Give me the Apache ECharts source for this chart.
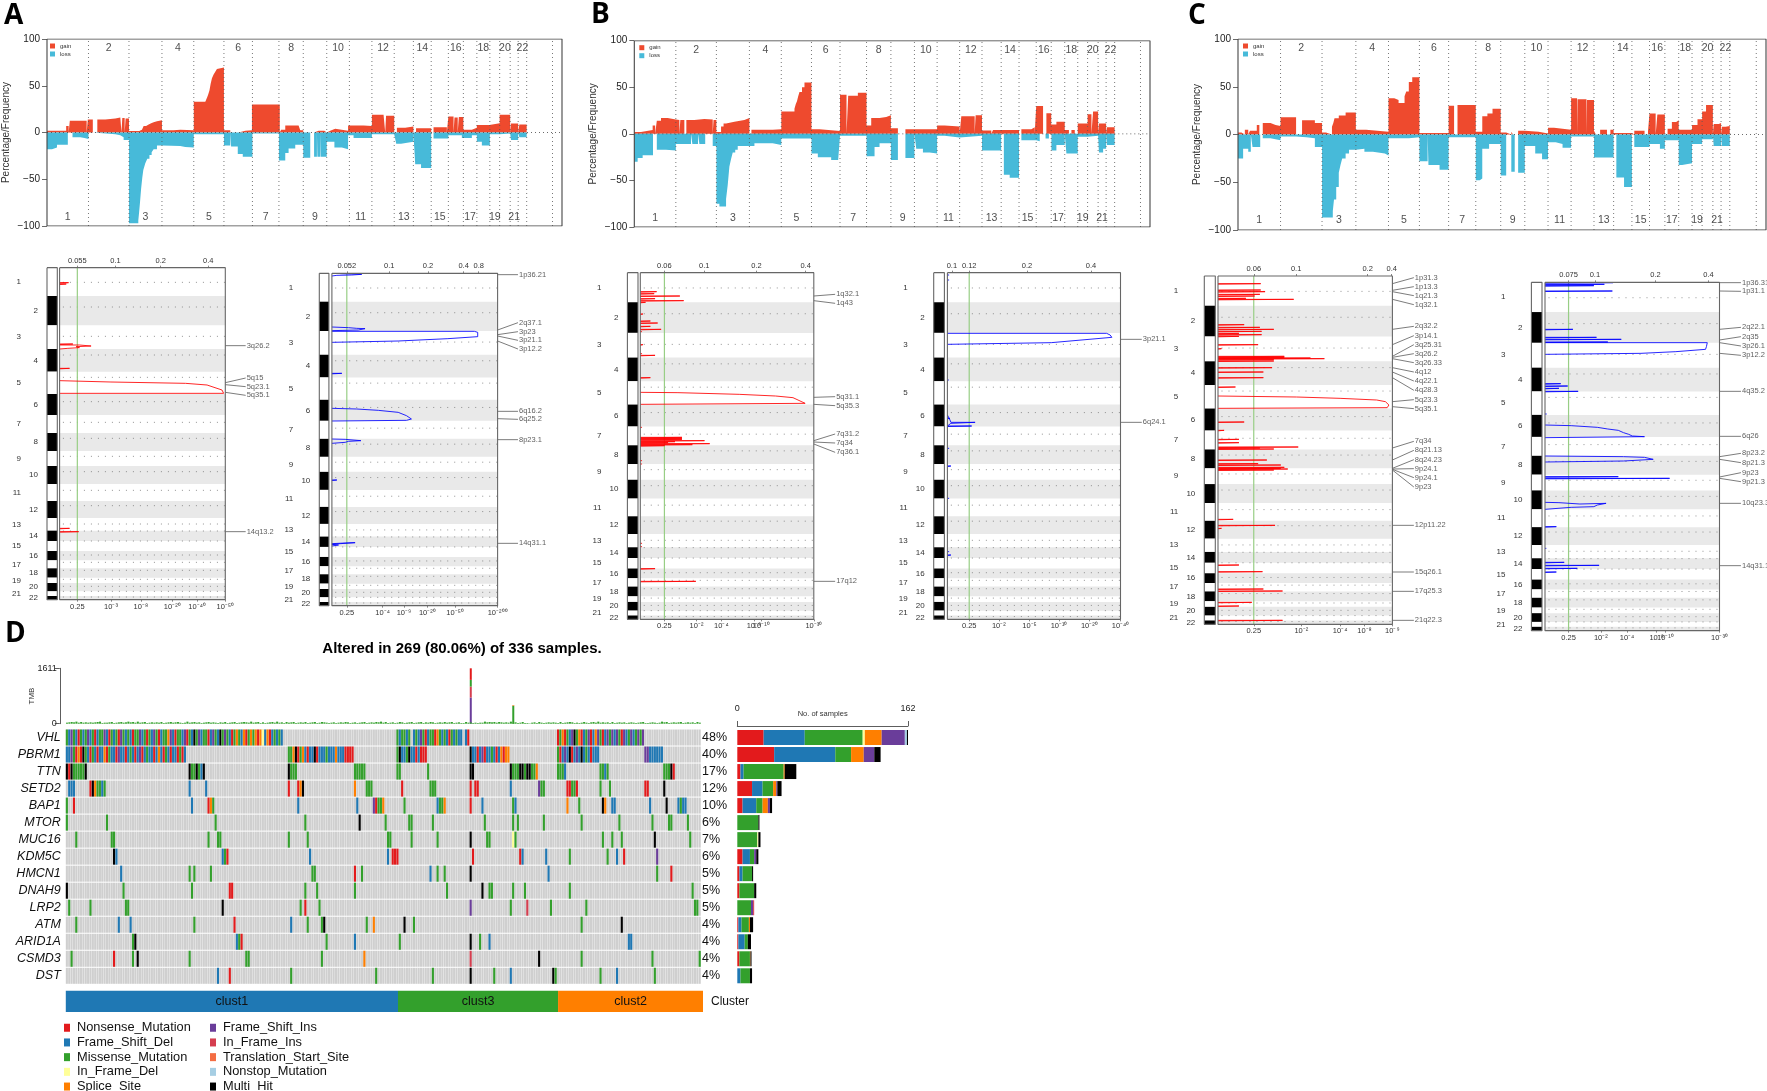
<!DOCTYPE html>
<html><head><meta charset="utf-8">
<style>html,body{margin:0;padding:0;background:#fff}#c{width:1767px;height:1091px}</style>
<script src="https://cdn.jsdelivr.net/npm/echarts@6/dist/echarts.min.js"></script>
</head><body><div id="c"></div>
<script>
// ---------- DATA: copy-number frequency (position in Mb, percent) ----------
const chrLengthsMb=[249,243,198,191,181,171,159,146,141,136,135,134,115,107,103,90,81,78,59,63,48,51];
const extraBoundaryMb=3034;
const gainA=[[0,2],[115,7],[130,0],[137,12.5],[238,0],[245,14],[275,0],[302,14],[350,15],[410,16],[440,15.5],[447,0],[452,15.5],[466,0],[472,15],[492,1.5],[554,3],[570,5],[580,7],[595,8.5],[610,10],[625,11],[640,12],[660,13],[690,2.5],[760,3],[800,2.5],[881,33],[950,32],[955,35],[962,38],[968,41],[975,45],[982,52],[990,58],[1000,62],[1010,65],[1020,68],[1030,69.5],[1062,2.5],[1100,0],[1150,2],[1190,0],[1200,2.5],[1230,30],[1397,0],[1405,3],[1430,7.5],[1510,7.5],[1520,2.5],[1538,0],[1603,2],[1630,0],[1642,2],[1665,0],[1679,2],[1700,4],[1730,2],[1807,7.5],[1900,7],[1950,19],[2020,18.5],[2030,0],[2035,18],[2084,0],[2100,5],[2150,6.5],[2199,0],[2215,4.5],[2306,0],[2320,5.5],[2400,0],[2409,17],[2440,0],[2446,16],[2465,0],[2472,16.5],[2499,3],[2550,5],[2580,8],[2655,10],[2717,19],[2780,0],[2785,9.5],[2828,0],[2835,8.5],[2879,0]];
const lossA=[[0,-18],[30,-16],[60,-13],[125,0],[153,-5],[200,-6],[225,-7],[249,0],[275,-2],[410,-3],[440,-5],[460,-8],[492,-97],[548,-94],[553,-85],[558,-75],[565,-60],[572,-48],[578,-40],[590,-33],[602,-28],[615,-24],[628,-21],[640,-18],[660,-14],[690,-14.5],[800,-15.5],[830,-16],[881,-2],[1062,-14],[1100,0],[1105,-15],[1145,-23],[1175,-26],[1233,-1],[1392,-30],[1430,-22],[1450,-17],[1490,-13],[1538,-27],[1580,0],[1603,-26],[1620,0],[1623,-26],[1640,0],[1643,-26],[1679,-10],[1725,-16],[1770,-18],[1807,-3],[1840,-6],[1950,-2],[2084,0],[2096,-12],[2125,-10],[2199,0],[2210,-34],[2245,-38],[2306,0],[2320,-6.5],[2409,-3],[2490,-6],[2550,-3],[2580,-10],[2610,-14],[2658,-2],[2717,-1],[2780,0],[2785,-8],[2828,0],[2835,-5],[2879,0]];
const gainB=[[0,2],[40,4],[110,9],[125,0],[135,14],[160,17],[200,15.5],[249,15],[270,0],[276,15],[300,0],[312,15],[360,16],[420,15.5],[470,0],[475,15],[492,2],[520,8],[535,11],[550,13],[600,15],[660,17],[690,0],[702,4.5],[830,5],[881,24],[960,27],[968,32],[975,35],[982,40],[990,45],[1005,50],[1020,55],[1062,5],[1110,3],[1233,42],[1272,0],[1282,41],[1340,44],[1392,9],[1420,17],[1470,18],[1510,20],[1538,6],[1580,0],[1625,5],[1679,5],[1815,9],[1860,8],[1950,0],[1960,19],[2040,0],[2046,20],[2084,3.5],[2140,0],[2150,4],[2199,4],[2306,0],[2320,5],[2380,7],[2400,0],[2409,30],[2450,0],[2470,22],[2499,10],[2530,13],[2580,4],[2605,0],[2620,4],[2640,0],[2658,11],[2700,11],[2717,21],[2740,0],[2750,24],[2780,0],[2785,11],[2828,0],[2833,7],[2879,0]];
const lossB=[[0,-30],[20,-26],[50,-23],[112,0],[135,-17],[190,-18],[249,-11],[340,0],[348,-11],[382,0],[390,-11],[425,0],[470,-13],[492,-75],[510,-78],[550,-70],[560,-55],[570,-35],[580,-27],[590,-20],[605,-17],[620,-13],[690,-13],[720,-10],[830,-12],[881,-5],[1062,-21],[1100,-25],[1180,-28],[1222,-30],[1233,-2],[1392,-24],[1440,-14],[1470,-10],[1538,-28],[1580,0],[1625,-26],[1679,0],[1690,-16],[1730,-20],[1770,-21],[1815,-2],[1860,-4],[1950,-2],[2084,-18],[2199,0],[2215,-44],[2250,-47],[2306,0],[2320,-7],[2409,-8],[2430,0],[2465,-5],[2485,0],[2500,-18],[2530,-12],[2580,0],[2590,-21],[2658,-3],[2717,-2],[2780,0],[2785,-20],[2810,-16],[2828,0],[2833,-12],[2879,0]];
const gainC=[[0,2],[20,0],[40,5],[60,0],[70,4],[110,10],[125,0],[145,12],[190,10],[220,9],[249,18],[340,0],[375,15],[450,12],[492,2],[515,0],[550,8],[558,12],[565,17],[590,20],[630,23],[690,5],[750,3],[881,38],[915,36],[940,33],[975,40],[985,45],[1000,55],[1020,60],[1062,1.5],[1233,30],[1265,0],[1285,31],[1392,3],[1430,19],[1460,22],[1490,27],[1538,2],[1570,0],[1600,3],[1610,0],[1640,4],[1679,3],[1760,1],[1815,7],[1850,5],[1950,38],[1985,0],[1988,37],[2040,0],[2043,36],[2084,4],[2095,0],[2120,5],[2160,0],[2180,5],[2199,1.5],[2306,0],[2320,4],[2380,0],[2400,3],[2409,22],[2445,0],[2455,21],[2499,0],[2515,6],[2540,13],[2565,15],[2580,5],[2658,10],[2690,16],[2717,24],[2740,31],[2780,0],[2785,11],[2815,12],[2828,0],[2833,8],[2855,9],[2879,0]];
const lossC=[[0,-25],[30,-15],[60,-18],[75,0],[85,-13],[130,0],[145,-4],[190,-6],[249,-2],[340,-3],[400,-4],[450,-13],[492,-87],[555,-80],[562,-68],[575,-55],[590,-40],[600,-32],[610,-25],[630,-20],[650,-16],[690,-15],[740,-18],[790,-20],[860,-22],[881,-4],[1000,-3],[1062,-28],[1110,0],[1115,-32],[1180,-37],[1233,-3],[1392,-48],[1415,-46],[1430,-15],[1470,-10],[1538,-43],[1570,0],[1600,-39],[1620,0],[1640,-40],[1679,-12],[1740,-20],[1780,-26],[1815,-8],[1860,-10],[1900,-14],[1950,-2],[2084,-24],[2199,0],[2215,-45],[2260,-55],[2306,0],[2320,-13],[2409,-10],[2470,-15],[2499,-6],[2580,-32],[2600,-30],[2658,-10],[2717,-5],[2780,0],[2785,-12],[2828,0],[2833,-12],[2879,0]];

// ---------- DATA: GISTIC-style panels ----------
const gisticChrUnits=[85,88,71,68,67,63,54,54,45,54,51,51,38,31,30,28,24,28,16,25,14,11];
const gisticCentromere=[44,118,206,262,329,402,464,512,566,612,668,714,769,790,820,862,884,908,935,956,971,988];
const chrNames=['1','2','3','4','5','6','7','8','9','10','11','12','13','14','15','16','17','18','19','20','21','22'];

const a1TopPos=[10.7,33.7,61,89.7], a1TopLab=['0.055','0.1','0.2','0.4'];
const a1BotPos=[10.7,31,49,68,83,100], a1BotLab=['0.25','10⁻³','10⁻⁸','10⁻²⁰','10⁻⁴⁰','10⁻⁵⁰'];
const a1Spikes=[[98,5.4],[102,4],[282,8],[355,6],[835,6],[845,11.5]];
const a1Curves=[[[0,285],[12,285],[19,288],[10,290],[12,293],[5,295],[0,297]],[[0,392],[31,396],[76,400],[89,405],[98,420],[99,430],[0,430]]];
const a1Names=['3q26.2','5q15','5q23.1','5q35.1','14q13.2'], a1From=[287,398,404,427,845], a1To=[287,384,410,436,845];

const a2TopPos=[9,34.6,58,79.5,88.6], a2TopLab=['0.052','0.1','0.2','0.4','0.8'];
const a2BotPos=[9,30.6,43.5,57.6,74.3,100], a2BotLab=['0.25','10⁻⁴','10⁻⁹','10⁻²⁰','10⁻⁵⁰','10⁻²⁰⁰'];
const a2Spikes=[[370,6],[690,3]];
const a2Curves=[[[5,71],[18,73],[12,75],[3,76],[0,78]],[[0,231],[10,233],[15,235],[20,236],[16,240],[0,242]],[[0,244],[86,244],[88,247],[88,260],[70,266],[40,273],[0,277]],[[0,475],[15,477],[28,481],[40,487],[45,497],[48,507],[45,511],[0,513]],[[0,567],[8,568],[17.5,572],[10,574],[8,577],[0,580]],[[0,881],[8,879],[14,878],[15,879],[5,881],[0,883],[4,885],[0,888]]];
const a2Names=['1p36.21','2q37.1','3p23','3p21.1','3p12.2','6q16.2','6q25.2','8p23.1','14q31.1'], a2From=[74,240,254,258,273,484,506,569,880], a2To=[74,218,245,271,297,484,508,569,880];

const b1TopPos=[13.9,36.9,67,95.3], b1TopLab=['0.06','0.1','0.2','0.4'];
const b1BotPos=[13.9,32.4,46.7,65.5,69.7,100], b1BotLab=['0.25','10⁻²','10⁻⁴','10⁻⁸','10⁻¹⁰','10⁻³⁰'];
const b1Spikes=[[125,9.4],[131,8],[138,22.8],[146,8.5],[152,25],[157,3],[192,1.5],[213,5.8],[219,10],[229,5.8],[238,12],[245,1],[284,1.5],[311,1],[316,8.5],[383,5.8],[532,1],[562,24],[565,24],[568,24],[572,37],[575,20],[578,16],[581,40],[584,30],[587,14],[632,1],[642,1],[880,1],[890,1],[956,8.5],[994,32]];
const b1Curves=[[[0,427],[21.7,428],[57,433],[78,438],[88,443],[95,460],[0,463]]];
const b1Names=['1q32.1','1q43','5q31.1','5q35.3','7q31.2','7q34','7q36.1','17q12'], b1From=[138,152,442,463,572,576,582,994], b1To=[133,160,440,467,552,579,607,994];

const b2TopPos=[2.6,12.6,46,83], b2TopLab=['0.1','0.12','0.2','0.4'];
const b2BotPos=[12.6,29.7,47.4,64.5,82,100], b2BotLab=['0.25','10⁻²','10⁻⁵','10⁻¹⁰','10⁻²⁰','10⁻⁴⁰'];
const b2Spikes=[[75,1],[90,1],[390,0.8],[505,1.5],[595,1],[648,2],[745,1],[905,1],[915,2],[528,14]];
const b2Curves=[[[0,250],[92,250],[94,255],[95,262],[96,268],[60,278],[0,283]],[[0,495],[1.5,510],[2,517],[16,517],[2,520],[0,528]]];
const b2Names=['3p21.1','6q24.1'], b2From=[268,517], b2To=[268,517];

const c1TopPos=[20.5,44.8,85.8,99.6], c1TopLab=['0.06','0.1','0.2','0.4'];
const c1BotPos=[20.5,47.8,70,84,100], c1BotLab=['0.25','10⁻²','10⁻⁴','10⁻⁸','10⁻⁹'];
const c1Spikes=[[101,24.5],[120,24.5],[125,27],[133,24],[138,21],[145,16],[148,43.4],[224,15],[232,24],[238,32],[244,25],[250,12],[254,25],[259,12],[284,23],[296,2],[319,38],[322,38],[324,53],[326,61],[329,32],[333,32],[353,31],[366,26],[383,26],[411,10],[516,15],[541,3.5],[568,12],[578,12],[591,46],[594,24],[597,32],[630,28],[641,23],[645,36],[652,38],[655,36],[657,40],[660,32],[808,8.7],[826,32.7],[835,2],[945,12],[965,25.5],[1017,26],[1023,37],[1057,19.4],[1068,12],[1111,37]];
const c1Curves=[[[0,438],[45,441],[70,445],[91,450],[96,455],[98,465],[97,473],[0,475]]];
const c1Names=['1p31.3','1p13.3','1q21.3','1q32.1','2q32.2','3p14.1','3q25.31','3q26.2','3q26.33','4q12','4q22.1','4q28.3','5q23.3','5q35.1','7q34','8q21.13','8q24.23','9p24.1','9p24.1','9p23','12p11.22','15q26.1','17q25.3','21q22.3'];
const c1From=[101,121,125,148,238,284,319,322,326,353,366,383,455,470,594,630,655,657,658,660,826,966,1024,1111];
const c1To=[83,110,137,164,229,257,284,311,338,366,393,421,449,476,574,601,629,656,683,711,826,966,1024,1111];

const c2TopPos=[13.5,28.6,63.3,93.7], c2TopLab=['0.075','0.1','0.2','0.4'];
const c2BotPos=[13.5,32,47,64,69,100], c2BotLab=['0.25','10⁻²','10⁻⁴','10⁻⁸','10⁻¹⁰','10⁻³⁰'];
const c2Spikes=[[98,39],[103,34],[107,28],[123,38.6],[238,16],[262,29.5],[268,43.7],[276,36],[401,9],[408,13],[415,8],[424,19],[492,1],[680,42],[685,71.4],[830,6.5],[895,0.8],[937,11],[946,31],[955,18.5],[966,6.5]];
const c2Curves=[[[0,278],[93,278],[92.5,290],[92,298],[75,305],[55,310],[0,313]],[[0,525],[15,527],[30,532],[36,537],[42,541],[45,548],[48,553],[50,558],[57,560],[0,563]],[[0,618],[45,620],[57,622],[58,628],[62,628],[45,633],[0,636]],[[0,757],[8,758],[20,762],[35,760],[30,765],[28,770],[15,772],[0,778]]];
const c2Names=['1p36.31','1p31.1','2q22.1','2q35','3p26.1','3p12.2','4q35.2','6q26','8p23.2','8p21.3','9p23','9p21.3','10q23.31','14q31.1'];
const c2From=[98,123,238,270,278,310,424,559,620,628,681,685,760,947];
const c2To=[98,124,232,260,288,316,424,559,610,638,668,695,760,947];

// ---------- DATA: oncoplot ----------
const genes=['VHL','PBRM1','TTN','SETD2','BAP1','MTOR','MUC16','KDM5C','HMCN1','DNAH9','LRP2','ATM','ARID1A','CSMD3','DST'];
const genePct=['48%','40%','17%','12%','10%','6%','7%','6%','5%','5%','5%','4%','4%','4%','4%'];
const typeNames=['Nonsense_Mutation','Frame_Shift_Del','Missense_Mutation','In_Frame_Del','Splice_Site','Frame_Shift_Ins','In_Frame_Ins','Translation_Start_Site','Nonstop_Mutation','Multi_Hit'];
const typeCodes=['N','D','M','I','S','F','R','T','O','H'];
const typeColors=['#E31A1C','#1F78B4','#33A02C','#FFFF99','#FF7F00','#6A3D9A','#D53E4F','#F46D43','#A6CEE3','#000000'];
const sampleCount=269;
const runsVHL=[[0,'MDFMDNMDMFDMNDMMFDNMDMNFMDMDNMMFDMNMDFMNDMMSFDNMMDFNMDHMFDMMNDFMDHMFMDNMSMDSNMSMSNSIDSNDMDMD'],[140,'MDMMDM'],[147,'DMDFMNDMMNSMDMDNMDMDD'],[169,'DN'],[208,'NMSNMDFHMSNDMFNDSFMNDFMFDFMNFDMFDMFMF']];
const runsPBRM1=[[0,'DDFMNSNHMDNMDNDDSNMDDNFDDNDMDNDFNDMDDNDSDNMDNDDNMND'],[94,'MMSHNMSDNDDHNDDDMDDDSDDDNNNN'],[140,'MHDDMHDDNDNNN'],[171,'HDDNDFNDDMDNDSNSS'],[208,'MNDFDHNDFDHDMDNDDD'],[245,'FFDDDDDD']];
const runsTTN=[[0,'HNHMMMMMH'],[52,'HMMHMDH'],[94,'HMMM'],[122,'MMMMM'],[140,'MM'],[153,'M'],[171,'HH'],[188,'HMMMHHMHHMMS'],[208,'MMMD'],[226,'MMDM'],[253,'MMMHN']];
const runsSETD2=[[1,'DDD'],[10,'NHSMMDM'],[52,'D'],[59,'D'],[94,'N'],[98,'NSH'],[122,'S'],[127,'MMM'],[142,'N'],[154,'MMM'],[171,'N'],[173,'NN'],[188,'D'],[200,'FMM'],[212,'NNMMN'],[226,'M'],[230,'M'],[245,'NN'],[253,'H']];
const runsBAP1=[[0,'M'],[3,'N'],[53,'D'],[60,'NSM'],[98,'D'],[123,'D'],[130,'FNMMS'],[143,'M'],[157,'DMMS'],[171,'N'],[176,'D'],[189,'MD'],[212,'S'],[217,'M'],[227,'HS'],[231,'DD'],[247,'D'],[254,'H'],[259,'DMDD']];
const runsMTOR=[[0,'M'],[17,'M'],[63,'M'],[101,'M'],[124,'H'],[135,'M'],[145,'MM'],[155,'M'],[177,'M'],[189,'M'],[191,'M'],[202,'M'],[218,'M'],[234,'M'],[248,'M'],[255,'MM'],[263,'M']];
const runsMUC16=[[4,'M'],[19,'MM'],[60,'M'],[64,'MM'],[94,'M'],[102,'M'],[136,'MM'],[146,'M'],[157,'M'],[171,'H'],[178,'MM'],[189,'IM'],[227,'M'],[231,'M'],[235,'M'],[249,'H'],[264,'M']];
const runsKDM5C=[[20,'HD'],[66,'DMN'],[103,'D'],[136,'D'],[138,'NNN'],[172,'N'],[192,'ND'],[203,'D'],[213,'M'],[229,'M'],[233,'D'],[236,'N'],[250,'F']];
const runsHMCN1=[[23,'D'],[52,'M'],[54,'M'],[61,'M'],[104,'MM'],[122,'N'],[125,'M'],[154,'D'],[157,'M'],[160,'M'],[171,'H'],[204,'D'],[250,'M'],[256,'N']];
const runsDNAH9=[[0,'H'],[24,'M'],[53,'M'],[69,'NN'],[101,'M'],[106,'M'],[122,'M'],[161,'M'],[176,'H'],[179,'MM'],[189,'M'],[194,'M'],[213,'M'],[265,'M']];
const runsLRP2=[[1,'M'],[10,'M'],[25,'MM'],[66,'H'],[99,'M'],[101,'N'],[107,'M'],[171,'F'],[188,'M'],[195,'R'],[205,'M'],[220,'M'],[266,'MM']];
const runsATM=[[4,'M'],[22,'D'],[27,'D'],[54,'M'],[71,'N'],[95,'D'],[102,'M'],[108,'MH'],[127,'M'],[130,'S'],[143,'H'],[147,'M'],[218,'M'],[235,'H']];
const runsARID1A=[[28,'MH'],[72,'DMN'],[110,'M'],[122,'D'],[141,'M'],[171,'H'],[175,'M'],[179,'D'],[238,'DD']];
const runsCSMD3=[[2,'M'],[20,'N'],[28,'M'],[30,'H'],[52,'M'],[76,'MM'],[108,'M'],[126,'S'],[171,'R'],[200,'H'],[218,'M'],[248,'M'],[268,'M']];
const runsDST=[[64,'D'],[69,'N'],[95,'M'],[131,'M'],[155,'M'],[171,'H'],[181,'M'],[188,'D'],[206,'HM'],[226,'M'],[233,'D'],[249,'M']];
const geneRuns=[runsVHL,runsPBRM1,runsTTN,runsSETD2,runsBAP1,runsMTOR,runsMUC16,runsKDM5C,runsHMCN1,runsDNAH9,runsLRP2,runsATM,runsARID1A,runsCSMD3,runsDST];
const countNonsense=[25,35,3,14,5,0,0,5,2,2,0,1,1,2,0];
const countFrameDel=[39,58,3,10,13,0,0,7,3,0,0,3,6,0,3];
const countMissense=[55,15,38,10,6,20,19,4,9,14,13,7,3,10,9];
const countInDel=[2,0,0,0,0,0,1,0,0,0,0,0,0,0,0];
const countSplice=[16,12,1,3,5,0,0,0,0,0,0,1,0,0.5,0];
const countFrameIns=[22,10,0,1,2,0,0,2,0,0,2,0,0,0,0];
const countInIns=[0,0,0,0,0,0,0,0,0,0,1,0,0,0,0];
const countStart=[0,0,0,0,0,0,0,0,0,0,0,0,0,0,0];
const countNonstop=[2,0,0,0,0,0,0,0,0,0,0,0,0,0,0];
const countMulti=[1,6,11,4,2,1,2,2,1,2,0,3,3,1,2];
const typeCounts=[countNonsense,countFrameDel,countMissense,countInDel,countSplice,countFrameIns,countInIns,countStart,countNonstop,countMulti];
// per-sample tumour mutation burden, tens of mutations
const tmbBase='34546353434345623345234534645363452343435234534532363453423453432435234523454363452423453634253452343523452354323423435423423452343546352342354234523452435423435345234225342323364545354343634235221342532343432523454232353245363434252343423432345223432364523434523434253423534234';
const tmbExtraCol=[171,189];
const tmbFrameIns=[760,0], tmbInIns=[320,0], tmbMissense=[194,520], tmbNonsense=[340,5], tmbSplice=[0,15];
const clusterNames=['clust1','clust3','clust2'], clusterStart=[0,140.5,208.2], clusterEnd=[140.5,208.2,269.5];
const clusterColors=['#1F78B4','#33A02C','#FF7F00'];

// ---------- BUILD ----------
const FONT='"Liberation Sans",Arial,sans-serif';
const grid=[],xAxis=[],yAxis=[],series=[],title=[],legend=[];
const GAIN='#EE4A2E',LOSS='#47BAD9',FRAME='#666',BAND='#E9E9E9',GREEN='#98CE85';
function addAxes(g,x,y){grid.push(g);const gi=grid.length-1;
  const xs=(Array.isArray(x)?x:[x]).map(a=>{xAxis.push(Object.assign({gridIndex:gi},a));return xAxis.length-1;});
  const ys=(Array.isArray(y)?y:[y]).map(a=>{yAxis.push(Object.assign({gridIndex:gi},a));return yAxis.length-1;});
  return {x:xs,y:ys};}
const box=(L,R,T,B)=>({left:L,top:T,width:R-L,height:B-T});

let cum=0;const chrStartMb=[];chrLengthsMb.forEach(l=>{chrStartMb.push(cum);cum+=l;});const genomeEnd=cum;

function cnvPanel(L,R,T,B,gain,loss,xMax){
  const a=addAxes(box(L,R,T,B),
    {type:'value',min:0,max:xMax,show:false},
    {type:'value',min:-100,max:100,interval:50,axisLine:{show:false},axisTick:{show:true,length:5,lineStyle:{color:'#444',width:.8}},splitLine:{show:false},
     name:'Percentage/Frequency',nameLocation:'middle',nameGap:36,nameMoveOverlap:false,nameTextStyle:{fontFamily:FONT,fontSize:10,color:'#333'},
     axisLabel:{fontFamily:FONT,fontSize:10,color:'#222',margin:7,formatter:v=>String(v).replace('-','−')}});
  const idx={xAxisIndex:a.x[0],yAxisIndex:a.y[0],silent:true,animation:false};
  [['gain',gain,GAIN],['loss',loss,LOSS]].forEach(([n,d,c])=>series.push(Object.assign({},idx,{type:'line',name:n,step:'end',data:d,symbol:'none',z:2,lineStyle:{width:0},itemStyle:{color:c},areaStyle:{color:c,opacity:1}})));
  const vl=[];chrStartMb.slice(1).concat([genomeEnd,extraBoundaryMb]).forEach(b=>vl.push([b,-100],[b,100],[null,null]));
  series.push(Object.assign({},idx,{type:'line',data:vl,symbol:'none',z:3,lineStyle:{color:'#555',width:.8,type:[1,3]}}));
  series.push(Object.assign({},idx,{type:'line',data:[[0,0],[xMax,0]],symbol:'none',z:3,lineStyle:{color:'#444',width:.8,type:[1,3]}}));
  series.push(Object.assign({},idx,{type:'line',data:[[0,100],[xMax,100],[xMax,-100],[0,-100],[0,100]],symbol:'none',z:4,lineStyle:{color:'#444',width:1.1}}));
  const lab=chrNames.map((n,i)=>({name:n,value:[chrStartMb[i]+chrLengthsMb[i]/2,i%2?90:-90]}));
  series.push(Object.assign({},idx,{type:'scatter',data:lab,symbolSize:0,z:5,label:{show:true,position:'inside',formatter:'{b}',fontFamily:FONT,fontSize:10.5,color:'#222'}}));
  legend.push({data:['gain','loss'],selectedMode:false,orient:'vertical',left:L+5,top:T+4,itemWidth:5,itemHeight:5,itemGap:2,padding:0,icon:'rect',textStyle:{fontFamily:FONT,fontSize:6,color:'#333'}});
}
cnvPanel(45,562,39,226,gainA,lossA,3091);
cnvPanel(634.3,1150,40.7,227,gainB,lossB,3091);
cnvPanel(1238,1766,39,230,gainC,lossC,3091);

function gistic(c){
  const T=250+c.zT/3,B=250+c.zB/3,k=(c.zB-c.zT)/996;
  let s=0;const starts=[];gisticChrUnits.forEach(u=>{starts.push(c.zT+s*k);s+=u;});
  const ends=starts.map((v,i)=>v+gisticChrUnits[i]*k);
  const mids=starts.map((v,i)=>(v+ends[i])/2);
  const lblAxis=(rem,margin)=>({type:'value',inverse:true,min:c.zT,max:c.zB,position:'left',axisLine:{show:false},axisTick:{show:false},splitLine:{show:false},
    axisLabel:{customValues:mids.filter((_,i)=>i%2===rem),margin,fontFamily:FONT,fontSize:8,color:'#333',formatter:v=>chrNames[mids.indexOf(v)]}});
  const id=addAxes(box(c.iL,c.iR,T,B),{type:'value',min:0,max:1,show:false},[lblAxis(1,9),lblAxis(0,26)]);
  const rectItem=(color,x0,x1)=>(p,api)=>{const a=api.coord([x0,api.value(0)]),b=api.coord([x1,api.value(1)]);return {type:'rect',shape:{x:a[0],y:a[1],width:b[0]-a[0],height:b[1]-a[1]},style:{fill:typeof color==='function'?color(p.dataIndex):color}};};
  const segs=starts.map((v,i)=>[v,ends[i]]);
  series.push({type:'custom',xAxisIndex:id.x[0],yAxisIndex:id.y[0],silent:true,animation:false,data:segs,renderItem:rectItem(i=>i%2?'#000':'#fff',0,1),z:2});
  series.push({type:'line',xAxisIndex:id.x[0],yAxisIndex:id.y[0],silent:true,animation:false,symbol:'none',clip:false,z:4,data:[[0,c.zT],[1,c.zT],[1,c.zB],[0,c.zB],[0,c.zT]],lineStyle:{color:FRAME,width:1.1}});
  const tickAxis=(pos,labs,position)=>({type:'value',min:0,max:100,position,axisLine:{show:false},splitLine:{show:false},
    axisTick:{show:true,customValues:pos,length:2,lineStyle:{color:'#555',width:.7}},
    axisLabel:{customValues:pos,margin:3,fontFamily:FONT,fontSize:7.5,color:'#333',formatter:v=>labs[pos.indexOf(v)]}});
  const m=addAxes(box(c.L,c.R,T,B),[tickAxis(c.topPos,c.topLab,'top'),tickAxis(c.botPos,c.botLab,'bottom')],
    {type:'value',inverse:true,min:c.zT,max:c.zB,show:false});
  const idx={xAxisIndex:m.x[0],yAxisIndex:m.y[0],silent:true,animation:false};
  series.push({type:'line',xAxisIndex:m.x[1],yAxisIndex:m.y[0],data:[],silent:true});
  series.push(Object.assign({},idx,{type:'custom',data:segs.filter((_,i)=>i%2),renderItem:rectItem(BAND,0,100),z:1}));
  const dots=[];gisticCentromere.forEach(u=>{const y=c.zT+u*k;dots.push([2,y],[100,y],[null,null]);});
  series.push(Object.assign({},idx,{type:'line',data:dots,symbol:'none',z:2,lineStyle:{color:'#777',width:.8,type:[1,6]}}));
  series.push(Object.assign({},idx,{type:'line',data:[[c.thr,c.zT],[c.thr,c.zB]],symbol:'none',z:3,lineStyle:{color:GREEN,width:1.2}}));
  const tr=[];c.spikes.forEach(([y,x])=>tr.push([0,y],[x,y],[0,y+1.5],[null,null]));c.curves.forEach(cv=>{cv.forEach(p=>tr.push(p));tr.push([null,null]);});
  series.push(Object.assign({},idx,{type:'line',data:tr,symbol:'none',z:4,lineStyle:{color:c.color,width:1,opacity:.85}}));
  series.push(Object.assign({},idx,{type:'line',data:[[0,c.zT],[100,c.zT],[100,c.zB],[0,c.zB],[0,c.zT]],symbol:'none',clip:false,z:5,lineStyle:{color:FRAME,width:1.1}}));
  series.push(Object.assign({},idx,{type:'custom',clip:false,z:5,data:c.names.map((n,i)=>[c.from[i],c.to[i]]),encode:{y:[0,1]},
    renderItem:(p,api)=>{const a=api.coord([100,api.value(0)]),b=api.coord([112.3,api.value(1)]);
      return {type:'line',shape:{x1:a[0],y1:a[1],x2:b[0],y2:b[1]},style:{stroke:'#444',lineWidth:.7}};}}));
  series.push(Object.assign({},idx,{type:'scatter',clip:false,symbolSize:0,z:5,data:c.names.map((n,i)=>({name:n,value:[112.3,c.to[i]]})),
    label:{show:true,position:'right',distance:1,formatter:'{b}',fontFamily:FONT,fontSize:7.5,color:'#333'}}));
}
gistic({iL:47,iR:57.3,L:59.6,R:225.3,zT:53,zB:1049,color:'#FF0000',thr:10.7,topPos:a1TopPos,topLab:a1TopLab,botPos:a1BotPos,botLab:a1BotLab,spikes:a1Spikes,curves:a1Curves,names:a1Names,from:a1From,to:a1To});
gistic({iL:319.3,iR:328.9,L:331.9,R:497.6,zT:70,zB:1067,color:'#0000FF',thr:9,topPos:a2TopPos,topLab:a2TopLab,botPos:a2BotPos,botLab:a2BotLab,spikes:a2Spikes,curves:a2Curves,names:a2Names,from:a2From,to:a2To});
gistic({iL:627.4,iR:638,L:640.3,R:813.8,zT:68,zB:1108,color:'#FF0000',thr:13.9,topPos:b1TopPos,topLab:b1TopLab,botPos:b1BotPos,botLab:b1BotLab,spikes:b1Spikes,curves:b1Curves,names:b1Names,from:b1From,to:b1To});
gistic({iL:933.7,iR:944.4,L:947.4,R:1120.5,zT:68,zB:1108,color:'#0000FF',thr:12.6,topPos:b2TopPos,topLab:b2TopLab,botPos:b2BotPos,botLab:b2BotLab,spikes:b2Spikes,curves:b2Curves,names:b2Names,from:b2From,to:b2To});
gistic({iL:1204.3,iR:1215.3,L:1218,R:1392.4,zT:78,zB:1123,color:'#FF0000',thr:20.5,topPos:c1TopPos,topLab:c1TopLab,botPos:c1BotPos,botLab:c1BotLab,spikes:c1Spikes,curves:c1Curves,names:c1Names,from:c1From,to:c1To});
gistic({iL:1531.4,iR:1542,L:1545,R:1719.5,zT:97,zB:1142,color:'#0000FF',thr:13.5,topPos:c2TopPos,topLab:c2TopLab,botPos:c2BotPos,botLab:c2BotLab,spikes:c2Spikes,curves:c2Curves,names:c2Names,from:c2From,to:c2To});

// TMB
const colCats=Array.from({length:sampleCount},(_,i)=>i);
const tmbAxes=addAxes(box(65.8,701,668.3,723.7),{type:'category',data:colCats,show:false},
  {type:'value',min:0,max:1611,offset:6,axisLine:{show:true,lineStyle:{color:'#333',width:.8}},axisTick:{show:true,customValues:[0,1611],length:5,lineStyle:{color:'#333',width:.8}},splitLine:{show:false},
   name:'TMB',nameLocation:'middle',nameGap:24,nameMoveOverlap:false,nameTextStyle:{fontFamily:FONT,fontSize:8,color:'#333'},
   axisLabel:{customValues:[0,1611],fontFamily:FONT,fontSize:9,color:'#222',margin:3,formatter:v=>String(v)}});
const sparse=vals=>{const a=new Array(sampleCount).fill(0);tmbExtraCol.forEach((c,i)=>a[c]=vals[i]);return a;};
const tmbBaseVals=colCats.map(i=>Number(tmbBase[i])*10);
[[tmbFrameIns,5],[tmbInIns,6],[tmbMissense,2],[tmbNonsense,0],[tmbSplice,4]].forEach(([v,t])=>{
  const d=sparse(v);series.push({type:'bar',name:typeNames[t],xAxisIndex:tmbAxes.x[0],yAxisIndex:tmbAxes.y[0],stack:'tmb',barWidth:'85%',data:d,silent:true,animation:false,itemStyle:{color:typeColors[t]}});
});
series.push({type:'bar',name:typeNames[2],xAxisIndex:tmbAxes.x[0],yAxisIndex:tmbAxes.y[0],stack:'tmbB',barGap:'-100%',barWidth:'85%',data:tmbBaseVals,silent:true,animation:false,itemStyle:{color:typeColors[2]}});

// matrix
const mat=addAxes(box(65.8,701,729,984.3),{type:'value',min:0,max:sampleCount,show:false},
  [{type:'category',data:genes,inverse:true,position:'left',axisLine:{show:false},axisTick:{show:false},axisLabel:{margin:5,fontFamily:FONT,fontStyle:'italic',fontSize:12.5,color:'#111'}},
   {type:'category',data:genePct,inverse:true,position:'right',axisLine:{show:false},axisTick:{show:false},axisLabel:{margin:1,fontFamily:FONT,fontSize:12.5,color:'#111'}}]);
const bgCells=[];genes.forEach((g,row)=>colCats.forEach(col=>bgCells.push([col,row])));
const cellShape=(api)=>{const a=api.coord([api.value(0),api.value(1)]),b=api.coord([api.value(0)+1,api.value(1)]),h=api.size([0,1])[1];
  return {x:a[0],y:a[1]-h/2+.5,width:b[0]-a[0]-.25,height:h-1};};
series.push({type:'custom',xAxisIndex:mat.x[0],yAxisIndex:mat.y[0],silent:true,animation:false,z:1,data:bgCells,encode:{x:0,y:1},large:false,
  renderItem:(p,api)=>({type:'rect',shape:cellShape(api),style:{fill:'#CFCFCF'}})});
const mutData=[];geneRuns.forEach((runs,row)=>runs.forEach(([st,codes])=>[...codes].forEach((ch,i)=>mutData.push([st+i,row,typeCodes.indexOf(ch)]))));
series.push({type:'custom',xAxisIndex:mat.x[0],yAxisIndex:mat.y[0],silent:true,animation:false,z:2,data:mutData,encode:{x:0,y:1},
  renderItem:(p,api)=>({type:'rect',shape:cellShape(api),style:{fill:typeColors[api.value(2)]}})});

// side bars
const side=addAxes(box(737.3,908,729,984.3),
  {type:'value',min:0,max:162,position:'top',offset:3,axisLine:{show:true,lineStyle:{color:'#333',width:.8}},axisTick:{show:true,customValues:[0,162],length:5,lineStyle:{color:'#333',width:.8}},splitLine:{show:false},
   name:'No. of samples',nameLocation:'middle',nameGap:8,nameMoveOverlap:false,nameTextStyle:{fontFamily:FONT,fontSize:7.5,color:'#333'},
   axisLabel:{customValues:[0,162],margin:13,fontFamily:FONT,fontSize:9,color:'#222',formatter:v=>String(v)}},
  {type:'category',data:genes,inverse:true,show:false});
typeNames.forEach((n,t)=>series.push({type:'bar',name:n,xAxisIndex:side.x[0],yAxisIndex:side.y[0],stack:'side',barWidth:'88%',data:typeCounts[t],silent:true,animation:false,itemStyle:{color:typeColors[t]}}));

// clusters
const cl=addAxes(box(65.8,703,990.7,1012),{type:'value',min:0,max:269.5,show:false},
  {type:'category',data:['Cluster'],position:'right',axisLine:{show:false},axisTick:{show:false},axisLabel:{margin:8,fontFamily:FONT,fontSize:12,color:'#111'}});
series.push({type:'custom',xAxisIndex:cl.x[0],yAxisIndex:cl.y[0],silent:true,animation:false,data:clusterNames.map((n,i)=>[clusterStart[i],clusterEnd[i],0]),encode:{x:[0,1],y:2},
  renderItem:(p,api)=>{const a=api.coord([api.value(0),0]),b=api.coord([api.value(1),0]),h=api.size([0,1])[1];
    return {type:'group',children:[{type:'rect',shape:{x:a[0],y:a[1]-h/2,width:b[0]-a[0],height:h},style:{fill:clusterColors[p.dataIndex]}},
      {type:'text',style:{text:clusterNames[p.dataIndex],x:(a[0]+b[0])/2,y:a[1],align:'center',verticalAlign:'middle',font:'12.5px '+FONT,fill:'#111'}}]};}});

// legends
const legOpt={selectedMode:false,orient:'vertical',height:120,itemWidth:6,itemHeight:8,itemGap:1.2,padding:0,icon:'rect',textStyle:{fontFamily:FONT,fontSize:12.8,color:'#111',lineHeight:13.5,padding:[0,0,0,2]}};
legend.push(Object.assign({},legOpt,{data:typeNames.slice(0,5),left:64,top:1021}));
legend.push(Object.assign({},legOpt,{data:typeNames.slice(5),left:210,top:1021}));

// titles
[['A',4,2],['B',591,1],['C',1188,2],['D',5,620]].forEach(([t,l,tp])=>title.push({text:t,left:l,top:tp,padding:0,textStyle:{fontFamily:'"Open Sans",'+FONT,fontSize:28,fontWeight:'bold',color:'#000'}}));
title.push({text:'Altered in 269 (80.06%) of 336 samples.',left:462,top:641,padding:0,textAlign:'center',textStyle:{fontFamily:FONT,fontSize:15,fontWeight:'bold',color:'#000'}});

const chart=echarts.init(document.getElementById('c'),null,{renderer:'canvas'});
chart.setOption({animation:false,backgroundColor:'#fff',title,legend,grid,xAxis,yAxis,series});
</script></body></html>
